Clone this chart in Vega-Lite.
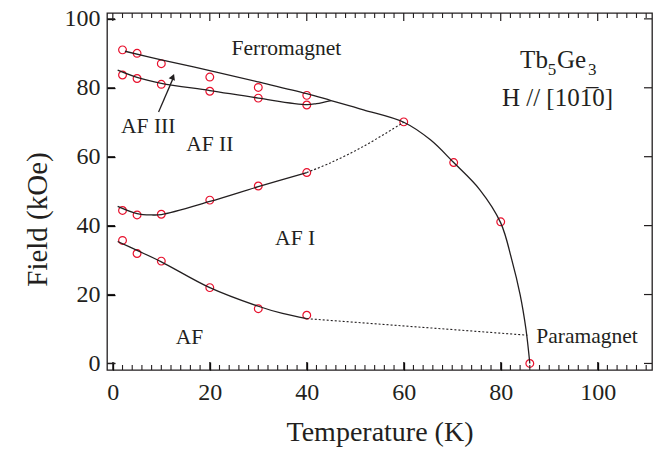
{
  "$schema": "https://vega.github.io/schema/vega-lite/v6.json",
  "autosize": "none",
  "width": 545,
  "height": 357,
  "padding": {"left": 107, "top": 13, "right": 16, "bottom": 79},
  "background": "white",
  "config": {
    "view": {"stroke": "#231f20", "strokeWidth": 1.3},
    "font": "Liberation Serif",
    "axis": {
      "domain": false, "grid": false,
      "labelFont": "Liberation Serif", "labelFontSize": 24, "labelColor": "#231f20",
      "titleFont": "Liberation Serif", "titleFontSize": 28, "titleFontWeight": "normal", "titleColor": "#231f20"
    }
  },
  "datasets": {
    "pts": [
      {"T": 2, "H": 91.0}, {"T": 5, "H": 90.0}, {"T": 10, "H": 87.0}, {"T": 20, "H": 83.1}, {"T": 30, "H": 80.1}, {"T": 40, "H": 77.8},
      {"T": 2, "H": 83.7}, {"T": 5, "H": 82.7}, {"T": 10, "H": 81.0}, {"T": 20, "H": 79.0}, {"T": 30, "H": 77.0}, {"T": 40, "H": 75.0},
      {"T": 2, "H": 44.4}, {"T": 5, "H": 43.1}, {"T": 10, "H": 43.3}, {"T": 20, "H": 47.4}, {"T": 30, "H": 51.5}, {"T": 40, "H": 55.4},
      {"T": 2, "H": 35.7}, {"T": 5, "H": 31.9}, {"T": 10, "H": 29.7}, {"T": 20, "H": 22.0}, {"T": 30, "H": 15.9}, {"T": 40, "H": 14.0},
      {"T": 60, "H": 70.1}, {"T": 70.3, "H": 58.3}, {"T": 80, "H": 41.1}, {"T": 86, "H": 0}
    ],
    "solid": [
      {"c": "a", "T": 2.5, "H": 90.6}, {"c": "a", "T": 10, "H": 88.1}, {"c": "a", "T": 20, "H": 85.0}, {"c": "a", "T": 30, "H": 81.7},
      {"c": "a", "T": 40, "H": 78.3}, {"c": "a", "T": 45, "H": 76.3}, {"c": "a", "T": 51.7, "H": 73.6}, {"c": "a", "T": 60, "H": 70.0},
      {"c": "a", "T": 65.5, "H": 64.9}, {"c": "a", "T": 70.3, "H": 58.3}, {"c": "a", "T": 75.7, "H": 50.4}, {"c": "a", "T": 80, "H": 40.8},
      {"c": "a", "T": 82.3, "H": 30.0}, {"c": "a", "T": 84.0, "H": 20.0}, {"c": "a", "T": 85.2, "H": 10.0},
      {"c": "a", "T": 86, "H": 0},
      {"c": "b", "T": 1, "H": 85.1}, {"c": "b", "T": 5, "H": 83.0}, {"c": "b", "T": 10, "H": 81.3}, {"c": "b", "T": 20, "H": 79.2},
      {"c": "b", "T": 30, "H": 77.0}, {"c": "b", "T": 40, "H": 75.1}, {"c": "b", "T": 42, "H": 75.4}, {"c": "b", "T": 45, "H": 76.3},
      {"c": "c", "T": 1, "H": 45.6}, {"c": "c", "T": 5, "H": 43.5}, {"c": "c", "T": 8, "H": 43.1}, {"c": "c", "T": 10, "H": 43.2},
      {"c": "c", "T": 20, "H": 47.0}, {"c": "c", "T": 30, "H": 51.3}, {"c": "c", "T": 40, "H": 55.4},
      {"c": "d", "T": 1, "H": 35.4}, {"c": "d", "T": 5, "H": 32.8}, {"c": "d", "T": 10, "H": 29.5}, {"c": "d", "T": 20, "H": 22.0},
      {"c": "d", "T": 30, "H": 16.6}, {"c": "d", "T": 35, "H": 14.5}, {"c": "d", "T": 40, "H": 13.0}
    ],
    "dotted": [
      {"c": "e", "T": 40, "H": 55.4}, {"c": "e", "T": 45, "H": 58.3}, {"c": "e", "T": 51.7, "H": 63.0}, {"c": "e", "T": 60, "H": 70.0},
      {"c": "f", "T": 40, "H": 13.0}, {"c": "f", "T": 85.5, "H": 8.2}
    ],
    "regions": [
      {"text": "Ferromagnet", "T": 35.8, "H": 89.5},
      {"text": "AF III", "T": 7.3, "H": 66.8},
      {"text": "AF II", "T": 20.0, "H": 61.6},
      {"text": "AF I", "T": 37.6, "H": 34.4},
      {"text": "AF", "T": 15.8, "H": 5.7},
      {"text": "Paramagnet", "T": 97.8, "H": 6.0}
    ],
    "formula": [
      {"text": "Tb", "T": 84.0, "H": 85.6},
      {"text": "Ge", "T": 91.6, "H": 85.6}
    ],
    "subs": [
      {"text": "5", "T": 89.7, "H": 83.7},
      {"text": "3", "T": 98.0, "H": 83.7}
    ],
    "field": [
      {"text": "H // [101̅0]", "T": 91.7, "H": 74.7}
    ],
    "arrow": [{"T": 9.44, "H": 73.0, "T2": 12.45, "H2": 82.8}],
    "head": [{"T": 12.4, "H": 83.2}],
    "xmaj": [{"v": 0}, {"v": 20}, {"v": 40}, {"v": 60}, {"v": 80}, {"v": 100}],
    "ymaj": [{"v": 0}, {"v": 20}, {"v": 40}, {"v": 60}, {"v": 80}, {"v": 100}],
    "xmin": [{"v": 2}, {"v": 4}, {"v": 6}, {"v": 8}, {"v": 10}, {"v": 12}, {"v": 14}, {"v": 16}, {"v": 18},
             {"v": 22}, {"v": 24}, {"v": 26}, {"v": 28}, {"v": 30}, {"v": 32}, {"v": 34}, {"v": 36}, {"v": 38},
             {"v": 42}, {"v": 44}, {"v": 46}, {"v": 48}, {"v": 50}, {"v": 52}, {"v": 54}, {"v": 56}, {"v": 58},
             {"v": 62}, {"v": 64}, {"v": 66}, {"v": 68}, {"v": 70}, {"v": 72}, {"v": 74}, {"v": 76}, {"v": 78},
             {"v": 82}, {"v": 84}, {"v": 86}, {"v": 88}, {"v": 90}, {"v": 92}, {"v": 94}, {"v": 96}, {"v": 98},
             {"v": 102}, {"v": 104}, {"v": 106}, {"v": 108}, {"v": 110}]
  },
  "resolve": {"axis": {"x": "independent", "y": "independent"}},
  "layer": [
    {
      "data": {"name": "pts"},
      "mark": {"type": "point", "filled": false, "stroke": "#e8112d", "strokeWidth": 1.2, "size": 60, "opacity": 1},
      "encoding": {
        "x": {"field": "T", "type": "quantitative", "scale": {"domain": [-1.2, 111.2], "nice": false, "zero": false},
              "axis": {"orient": "bottom", "offset": -8, "ticks": true, "tickColor": "black", "tickWidth": 1.3, "values": [0, 20, 40, 60, 80, 100], "tickSize": 8, "labelPadding": 10, "title": "Temperature (K)", "titlePadding": 14}},
        "y": {"field": "H", "type": "quantitative", "scale": {"domain": [-1.9, 101.7], "nice": false, "zero": false},
              "axis": {"orient": "left", "offset": -8, "ticks": true, "tickColor": "black", "tickWidth": 1.3, "values": [0, 20, 40, 60, 80, 100], "tickSize": 8, "labelPadding": 7, "title": "Field (kOe)", "titlePadding": 12, "titleFontSize": 29, "titleY": 206}}
      }
    },
    {
      "data": {"name": "solid"},
      "mark": {"type": "line", "color": "#231f20", "strokeWidth": 1.3, "interpolate": "catmull-rom"},
      "encoding": {
        "x": {"field": "T", "type": "quantitative", "scale": {"domain": [-1.2, 111.2], "nice": false, "zero": false}, "axis": null},
        "y": {"field": "H", "type": "quantitative", "scale": {"domain": [-1.9, 101.7], "nice": false, "zero": false}, "axis": null},
        "detail": {"field": "c", "type": "nominal"}
      }
    },
    {
      "data": {"name": "dotted"},
      "mark": {"type": "line", "color": "#231f20", "strokeWidth": 1.1, "strokeDash": [2, 2], "interpolate": "catmull-rom"},
      "encoding": {
        "x": {"field": "T", "type": "quantitative", "scale": {"domain": [-1.2, 111.2], "nice": false, "zero": false}, "axis": null},
        "y": {"field": "H", "type": "quantitative", "scale": {"domain": [-1.9, 101.7], "nice": false, "zero": false}, "axis": null},
        "detail": {"field": "c", "type": "nominal"}
      }
    },
    {
      "data": {"name": "regions"},
      "mark": {"type": "text", "font": "Liberation Serif", "fontSize": 21.5, "color": "#231f20", "align": "center", "baseline": "alphabetic"},
      "encoding": {
        "x": {"field": "T", "type": "quantitative", "scale": {"domain": [-1.2, 111.2], "nice": false, "zero": false}, "axis": null},
        "y": {"field": "H", "type": "quantitative", "scale": {"domain": [-1.9, 101.7], "nice": false, "zero": false}, "axis": null},
        "text": {"field": "text"}
      }
    },
    {
      "data": {"name": "formula"},
      "mark": {"type": "text", "font": "Liberation Serif", "fontSize": 25, "color": "#231f20", "align": "left", "baseline": "alphabetic"},
      "encoding": {
        "x": {"field": "T", "type": "quantitative", "scale": {"domain": [-1.2, 111.2], "nice": false, "zero": false}, "axis": null},
        "y": {"field": "H", "type": "quantitative", "scale": {"domain": [-1.9, 101.7], "nice": false, "zero": false}, "axis": null},
        "text": {"field": "text"}
      }
    },
    {
      "data": {"name": "subs"},
      "mark": {"type": "text", "font": "Liberation Serif", "fontSize": 17, "color": "#231f20", "align": "left", "baseline": "alphabetic"},
      "encoding": {
        "x": {"field": "T", "type": "quantitative", "scale": {"domain": [-1.2, 111.2], "nice": false, "zero": false}, "axis": null},
        "y": {"field": "H", "type": "quantitative", "scale": {"domain": [-1.9, 101.7], "nice": false, "zero": false}, "axis": null},
        "text": {"field": "text"}
      }
    },
    {
      "data": {"name": "field"},
      "mark": {"type": "text", "font": "Liberation Serif", "fontSize": 25, "color": "#231f20", "align": "center", "baseline": "alphabetic"},
      "encoding": {
        "x": {"field": "T", "type": "quantitative", "scale": {"domain": [-1.2, 111.2], "nice": false, "zero": false}, "axis": null},
        "y": {"field": "H", "type": "quantitative", "scale": {"domain": [-1.9, 101.7], "nice": false, "zero": false}, "axis": null},
        "text": {"field": "text"}
      }
    },
    {
      "data": {"name": "arrow"},
      "mark": {"type": "rule", "color": "#231f20", "strokeWidth": 1.3},
      "encoding": {
        "x": {"field": "T", "type": "quantitative", "scale": {"domain": [-1.2, 111.2], "nice": false, "zero": false}, "axis": null},
        "y": {"field": "H", "type": "quantitative", "scale": {"domain": [-1.9, 101.7], "nice": false, "zero": false}, "axis": null},
        "x2": {"field": "T2"},
        "y2": {"field": "H2"}
      }
    },
    {
      "data": {"name": "head"},
      "mark": {"type": "point", "shape": "triangle-up", "filled": true, "color": "#231f20", "size": 45, "angle": 22.6, "opacity": 1},
      "encoding": {
        "x": {"field": "T", "type": "quantitative", "scale": {"domain": [-1.2, 111.2], "nice": false, "zero": false}, "axis": null},
        "y": {"field": "H", "type": "quantitative", "scale": {"domain": [-1.9, 101.7], "nice": false, "zero": false}, "axis": null}
      }
    },
    {
      "data": {"name": "xmaj"},
      "mark": {"type": "point", "shape": "M0,0L0,-1", "filled": false, "stroke": "#231f20", "strokeWidth": 1.2, "size": 256, "opacity": 1},
      "encoding": {
        "x": {"field": "v", "type": "quantitative", "scale": {"domain": [-1.2, 111.2], "nice": false, "zero": false}, "axis": null},
        "y": {"datum": -1.9, "type": "quantitative", "scale": {"domain": [-1.9, 101.7], "nice": false, "zero": false}, "axis": null}
      }
    },
    {
      "data": {"name": "xmaj"},
      "mark": {"type": "point", "shape": "M0,0L0,1", "filled": false, "stroke": "#231f20", "strokeWidth": 1.2, "size": 256, "opacity": 1},
      "encoding": {
        "x": {"field": "v", "type": "quantitative", "scale": {"domain": [-1.2, 111.2], "nice": false, "zero": false}, "axis": null},
        "y": {"datum": 101.7, "type": "quantitative", "scale": {"domain": [-1.9, 101.7], "nice": false, "zero": false}, "axis": null}
      }
    },
    {
      "data": {"name": "xmin"},
      "mark": {"type": "point", "shape": "M0,0L0,-1", "filled": false, "stroke": "#231f20", "strokeWidth": 1.1, "size": 100, "opacity": 1},
      "encoding": {
        "x": {"field": "v", "type": "quantitative", "scale": {"domain": [-1.2, 111.2], "nice": false, "zero": false}, "axis": null},
        "y": {"datum": -1.9, "type": "quantitative", "scale": {"domain": [-1.9, 101.7], "nice": false, "zero": false}, "axis": null}
      }
    },
    {
      "data": {"name": "xmin"},
      "mark": {"type": "point", "shape": "M0,0L0,1", "filled": false, "stroke": "#231f20", "strokeWidth": 1.1, "size": 100, "opacity": 1},
      "encoding": {
        "x": {"field": "v", "type": "quantitative", "scale": {"domain": [-1.2, 111.2], "nice": false, "zero": false}, "axis": null},
        "y": {"datum": 101.7, "type": "quantitative", "scale": {"domain": [-1.9, 101.7], "nice": false, "zero": false}, "axis": null}
      }
    },
    {
      "data": {"name": "ymaj"},
      "mark": {"type": "point", "shape": "M0,0L1,0", "filled": false, "stroke": "#231f20", "strokeWidth": 1.2, "size": 256, "opacity": 1},
      "encoding": {
        "y": {"field": "v", "type": "quantitative", "scale": {"domain": [-1.9, 101.7], "nice": false, "zero": false}, "axis": null},
        "x": {"datum": -1.2, "type": "quantitative", "scale": {"domain": [-1.2, 111.2], "nice": false, "zero": false}, "axis": null}
      }
    },
    {
      "data": {"name": "ymaj"},
      "mark": {"type": "point", "shape": "M0,0L-1,0", "filled": false, "stroke": "#231f20", "strokeWidth": 1.2, "size": 256, "opacity": 1},
      "encoding": {
        "y": {"field": "v", "type": "quantitative", "scale": {"domain": [-1.9, 101.7], "nice": false, "zero": false}, "axis": null},
        "x": {"datum": 111.2, "type": "quantitative", "scale": {"domain": [-1.2, 111.2], "nice": false, "zero": false}, "axis": null}
      }
    }
  ]
}
